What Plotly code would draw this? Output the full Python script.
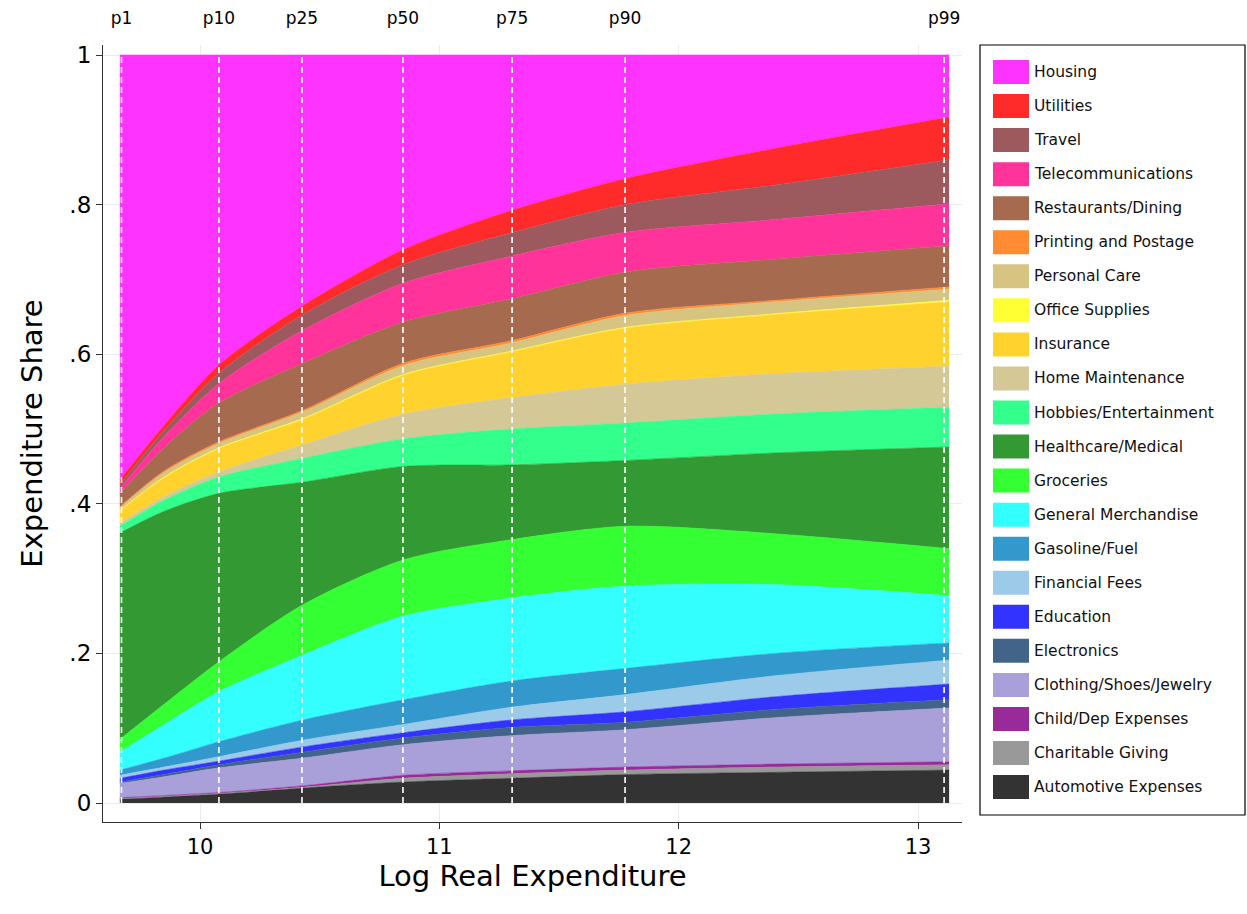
import plotly.graph_objects as go

# ---------------- data ----------------
# log real expenditure grid (data columns)
log_exp = [9.665, 9.85, 10.08, 10.43, 10.85, 11.30, 11.78, 12.40, 13.13]

# categories, stacked from bottom to top
categories = [
    "Automotive Expenses", "Charitable Giving", "Child/Dep Expenses",
    "Clothing/Shoes/Jewelry", "Electronics", "Education", "Financial Fees",
    "Gasoline/Fuel", "General Merchandise", "Groceries", "Healthcare/Medical",
    "Hobbies/Entertainment", "Home Maintenance", "Insurance", "Office Supplies",
    "Personal Care", "Printing and Postage", "Restaurants/Dining",
    "Telecommunications", "Travel", "Utilities", "Housing",
]

automotive    = [0.005, 0.008, 0.012, 0.020, 0.028, 0.033, 0.038, 0.041, 0.044]
charitable    = [0.001, 0.001, 0.001, 0.001, 0.005, 0.006, 0.006, 0.007, 0.007]
child_dep     = [0.001, 0.001, 0.001, 0.002, 0.004, 0.004, 0.004, 0.004, 0.004]
clothing      = [0.019, 0.025, 0.033, 0.037, 0.041, 0.047, 0.050, 0.062, 0.072]
electronics   = [0.002, 0.003, 0.004, 0.008, 0.009, 0.011, 0.010, 0.011, 0.011]
education     = [0.005, 0.006, 0.005, 0.007, 0.007, 0.010, 0.014, 0.017, 0.021]
financial     = [0.004, 0.004, 0.006, 0.009, 0.011, 0.017, 0.023, 0.028, 0.032]
gasoline      = [0.007, 0.012, 0.020, 0.027, 0.033, 0.035, 0.035, 0.030, 0.023]
general_merch = [0.024, 0.045, 0.067, 0.087, 0.112, 0.111, 0.110, 0.092, 0.063]
groceries     = [0.017, 0.027, 0.040, 0.067, 0.075, 0.078, 0.080, 0.068, 0.063]
healthcare    = [0.276, 0.258, 0.225, 0.164, 0.125, 0.100, 0.088, 0.108, 0.136]
hobbies       = [0.009, 0.015, 0.022, 0.032, 0.037, 0.048, 0.050, 0.052, 0.053]
home_maint    = [0.004, 0.005, 0.007, 0.018, 0.033, 0.042, 0.052, 0.054, 0.055]
insurance     = [0.016, 0.025, 0.031, 0.034, 0.052, 0.061, 0.075, 0.079, 0.086]
office        = [0.001, 0.001, 0.001, 0.001, 0.001, 0.001, 0.001, 0.001, 0.002]
personal_care = [0.004, 0.006, 0.006, 0.009, 0.012, 0.011, 0.016, 0.016, 0.015]
printing      = [0.001, 0.002, 0.002, 0.002, 0.003, 0.003, 0.003, 0.002, 0.003]
restaurants   = [0.018, 0.031, 0.052, 0.063, 0.055, 0.056, 0.055, 0.055, 0.055]
telecom       = [0.006, 0.015, 0.026, 0.044, 0.052, 0.057, 0.053, 0.053, 0.056]
travel        = [0.005, 0.008, 0.014, 0.021, 0.025, 0.031, 0.037, 0.046, 0.059]
utilities     = [0.007, 0.007, 0.011, 0.012, 0.020, 0.030, 0.035, 0.049, 0.057]
housing       = [0.568, 0.495, 0.414, 0.335, 0.260, 0.208, 0.165, 0.125, 0.083]

series = [automotive, charitable, child_dep, clothing, electronics, education,
          financial, gasoline, general_merch, groceries, healthcare, hobbies,
          home_maint, insurance, office, personal_care, printing, restaurants,
          telecom, travel, utilities, housing]

colors = ["#333333", "#999999", "#992a99", "#a99fd9", "#416488", "#3333ff",
          "#9ccbea", "#3399cc", "#33ffff", "#33ff33", "#339933", "#33ff8c",
          "#d4c896", "#ffd22e", "#ffff33", "#d8c481", "#ff8c33", "#a66a4e",
          "#ff3399", "#9c5a5e", "#ff2a2a", "#ff33ff"]

# percentile markers
pct_labels = ["p1", "p10", "p25", "p50", "p75", "p90", "p99"]
pct_values = [9.672, 10.079, 10.426, 10.848, 11.304, 11.776, 13.109]

y_ticks = [0, 0.2, 0.4, 0.6, 0.8, 1]
y_ticktext = ["0", ".2", ".4", ".6", ".8", "1"]
x_ticks = [10, 11, 12, 13]

# ---------------- layout geometry ----------------
W, H = 1247, 914
L, R, T, B = 103, 962, 45, 822          # plot area in pixels
x_range = [9.5947, 13.1838]
y_range = [-0.0254, 1.0134]
FONT = "DejaVu Sans"

fig = go.Figure()

for name, vals, col in zip(categories, series, colors):
    fig.add_trace(go.Scatter(
        x=log_exp, y=vals, name=name, stackgroup="one", mode="lines",
        line=dict(width=0.6, color=col, shape="spline", smoothing=0.8),
        fillcolor=col, showlegend=False,
    ))

# invisible trace to carry the top percentile axis
fig.add_trace(go.Scatter(x=pct_values, y=[None] * len(pct_values), xaxis="x2",
                         mode="markers", showlegend=False, hoverinfo="skip"))

# dashed percentile lines
for pv in pct_values:
    fig.add_shape(type="line", xref="x", yref="y", x0=pv, x1=pv, y0=0, y1=1,
                  line=dict(color="white", width=1.6, dash="6px,4px"), layer="above")

# manual legend (Stata style: large swatches, boxed)
def px_x(p):
    return (p - L) / (R - L)

def px_y(p):
    return (B - p) / (B - T)

fig.add_shape(type="rect", xref="paper", yref="paper",
              x0=px_x(980), x1=px_x(1245), y0=px_y(815), y1=px_y(45),
              line=dict(color="black", width=1.2), fillcolor="white", layer="above")

legend_order = list(reversed(range(len(categories))))
for row, idx in enumerate(legend_order):
    yc = 72 + row * 34.05
    fig.add_shape(type="rect", xref="paper", yref="paper",
                  x0=px_x(993), x1=px_x(1029), y0=px_y(yc + 12), y1=px_y(yc - 12),
                  line=dict(width=0), fillcolor=colors[idx], layer="above")
    fig.add_annotation(x=px_x(1032), y=px_y(yc), xref="paper", yref="paper",
                       text=categories[idx], showarrow=False, xanchor="left",
                       yanchor="middle", font=dict(family=FONT, size=15.5, color="#111111"))

fig.update_layout(
    width=W, height=H,
    margin=dict(l=L, r=W - R, t=T, b=H - B, pad=0, autoexpand=False),
    paper_bgcolor="white", plot_bgcolor="white",
    font=dict(family=FONT, color="black"),
    showlegend=False,
    xaxis=dict(
        range=x_range, tickvals=x_ticks, ticks="outside", ticklen=6,
        tickcolor="#333333", showline=True, linecolor="#333333", linewidth=1.2,
        showgrid=True, gridcolor="#ececec", zeroline=False, automargin=False,
        tickfont=dict(size=21, family=FONT),
        title=dict(text="Log Real Expenditure", font=dict(size=29, family=FONT), standoff=0),
    ),
    xaxis2=dict(
        overlaying="x", side="top", range=x_range, tickvals=pct_values,
        ticktext=pct_labels, showgrid=False, showline=False, zeroline=False,
        ticks="outside", ticklen=13, tickcolor="rgba(0,0,0,0)", automargin=False,
        tickfont=dict(size=17, family=FONT),
    ),
    yaxis=dict(
        range=y_range, tickvals=y_ticks, ticktext=y_ticktext, ticks="outside",
        ticklen=6, tickcolor="#333333", showline=True, linecolor="#333333",
        linewidth=1.2, showgrid=True, gridcolor="#ececec", zeroline=False,
        automargin=False, tickfont=dict(size=23, family=FONT),
        title=dict(text="Expenditure Share", font=dict(size=29, family=FONT), standoff=18),
    ),
)

fig.write_html(
    "out.html",
    config={"displayModeBar": False},
    post_script="document.body.style.margin='0';document.body.style.overflow='hidden';",
)
